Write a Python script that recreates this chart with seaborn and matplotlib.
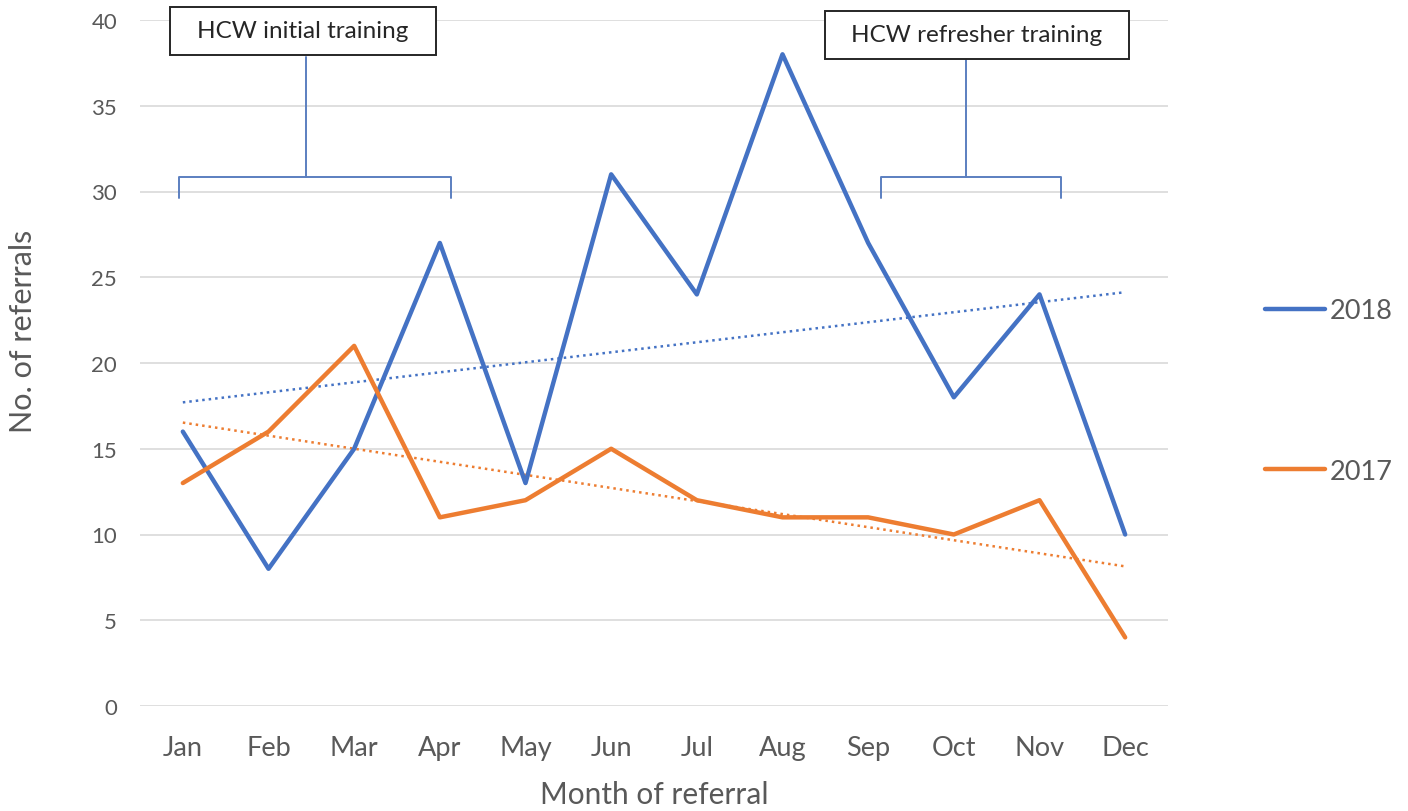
import numpy as np
import pandas as pd
import matplotlib
matplotlib.use("Agg")
import matplotlib.pyplot as plt
import seaborn as sns
from matplotlib.lines import Line2D
from matplotlib.patches import Rectangle

months = ["Jan", "Feb", "Mar", "Apr", "May", "Jun", "Jul", "Aug", "Sep", "Oct", "Nov", "Dec"]
referrals_2018 = [16, 8, 15, 27, 13, 31, 24, 38, 27, 18, 24, 10]
referrals_2017 = [13, 16, 21, 11, 12, 15, 12, 11, 11, 10, 12, 4]
series_names = ["2018", "2017"]
y_ticks = [0, 5, 10, 15, 20, 25, 30, 35, 40]

sns.set_theme(style="white")
plt.rcParams['font.family'] = ['Lato', 'DejaVu Sans']

BLUE = "#4472C4"
ORANGE = "#ED7D31"
GRID = "#D9D9D9"
TXT = "#595959"

idx = np.arange(len(months))
df = pd.DataFrame({
    "idx": np.concatenate([idx, idx]),
    "value": referrals_2018 + referrals_2017,
    "year": [series_names[0]] * 12 + [series_names[1]] * 12,
})

fig = plt.figure(figsize=(14.08, 8.12), dpi=100)
ax = fig.add_axes([140 / 1408, 1 - 707 / 812, (1168 - 140) / 1408, (707 - 21) / 812])

for yv in y_ticks:
    ax.axhline(yv, color=GRID, lw=1.2, zorder=0)

sns.lineplot(data=df, x="idx", y="value", hue="year", hue_order=series_names,
             palette={series_names[0]: BLUE, series_names[1]: ORANGE},
             lw=3.2, ax=ax, legend=False, zorder=3)

for vals, col in [(referrals_2018, BLUE), (referrals_2017, ORANGE)]:
    sns.regplot(x=idx, y=np.array(vals), ci=None, scatter=False, ax=ax, truncate=True,
                line_kws={"color": col, "lw": 1.8, "ls": (0, (1, 1.6)), "zorder": 2})

ax.set_xlim(-0.5, 11.5)
ax.set_ylim(0, 40)
ax.set_xticks(idx)
ax.set_xticklabels(months)
ax.set_yticks(y_ticks)
ax.tick_params(axis="both", length=0, labelcolor=TXT)
ax.tick_params(axis="x", pad=21, labelsize=19.5)
ax.tick_params(axis="y", pad=16.5, labelsize=16)
for s in ax.spines.values():
    s.set_visible(False)

ax.set_xlabel("Month of referral", fontsize=21.5, color=TXT, va="baseline")
ax.set_ylabel("No. of referrals", fontsize=22, color=TXT, va="center")
ax.xaxis.set_label_coords(0.5, -(804 - 707) / 686)
ax.yaxis.set_label_coords((23 - 140) / 1028, (707 - 331) / 686)

# annotations (bracket + labelled box)
def px2data(x, y):
    xd = (x - 184) / ((1127 - 184) / 11)
    yd = (707 - y) / 686 * 40
    return xd, yd

BR = "#5B7FC0"
def bracket(xl, xr, xc, ytop, yh, yend):
    x1, yh_d = px2data(xl, yh)
    x2, yend_d = px2data(xr, yend)
    xcd, ytop_d = px2data(xc, ytop)
    ax.plot([x1, x1, x2, x2], [yend_d, yh_d, yh_d, yend_d], color=BR, lw=1.4,
            clip_on=False, zorder=4)
    ax.plot([xcd, xcd], [yh_d, ytop_d], color=BR, lw=1.4, clip_on=False, zorder=4)

def box(x0, y0, x1, y1, text):
    fx0, fy1 = x0 / 1408, 1 - y1 / 812
    w, h = (x1 - x0) / 1408, (y1 - y0) / 812
    fig.patches.append(Rectangle((fx0, fy1), w, h, transform=fig.transFigure,
                                 facecolor="white", edgecolor="#262626", lw=1.4, zorder=5))
    fig.text(fx0 + w / 2, fy1 + h / 2, text, ha="center", va="center",
             fontsize=17.5, color="#262626", zorder=6)

bracket(180, 452, 307, 58, 178, 199)
bracket(883, 1063, 968, 60, 178, 199)
box(170, 8, 436, 56, "HCW initial training")
box(825, 12, 1129, 60, "HCW refresher training")

handles = [Line2D([], [], color=BLUE, lw=3.2), Line2D([], [], color=ORANGE, lw=3.2)]
fig.legend(handles, series_names, loc="center left",
           bbox_to_anchor=(1265 / 1408, 1 - 392 / 812), frameon=False,
           borderaxespad=0, borderpad=0,
           fontsize=19.5, labelcolor=TXT, handlelength=2.2, handletextpad=0.2,
           labelspacing=5.0)

fig.savefig("out.png", dpi=100)
